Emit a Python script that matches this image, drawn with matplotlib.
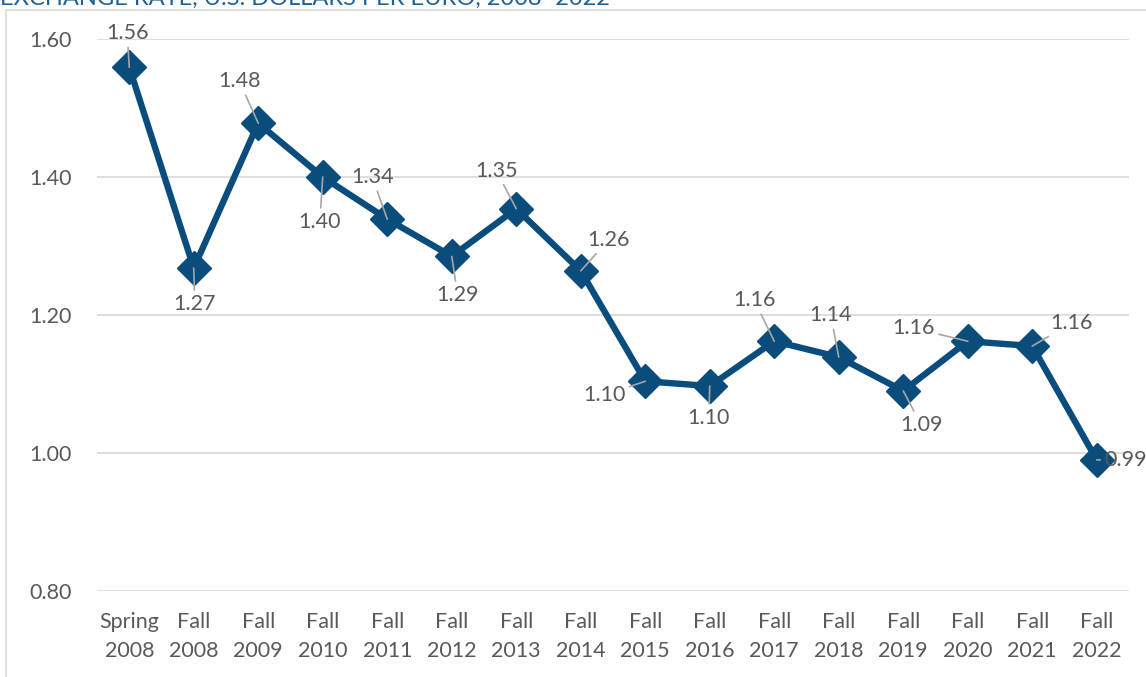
import matplotlib.pyplot as plt
from matplotlib.patches import Rectangle

# data
periods = ["Spring\n2008", "Fall\n2008", "Fall\n2009", "Fall\n2010", "Fall\n2011", "Fall\n2012",
           "Fall\n2013", "Fall\n2014", "Fall\n2015", "Fall\n2016", "Fall\n2017", "Fall\n2018",
           "Fall\n2019", "Fall\n2020", "Fall\n2021", "Fall\n2022"]
rates = [1.559, 1.268, 1.478, 1.400, 1.339, 1.285, 1.354, 1.264,
         1.104, 1.097, 1.162, 1.139, 1.090, 1.162, 1.155, 0.990]
labels = ["1.56", "1.27", "1.48", "1.40", "1.34", "1.29", "1.35", "1.26",
          "1.10", "1.10", "1.16", "1.14", "1.09", "1.16", "1.16", "0.99"]
# label offsets from the point, in pixels
offsets = [(-2, 34), (1, -36), (-19, 42), (-3, -45), (-15, 42), (6, -39), (-20, 38), (28, 31),
           (-41, -14), (-1, -32), (-20, 41), (-8, 42), (18, -34), (-54, 13), (39, 23), (29, 0)]
yticks = [0.80, 1.00, 1.20, 1.40, 1.60]

line_col = "#0A4D7D"
text_col = "#595959"
fs = 15.5
plt.rcParams['font.family'] = ['Lato', 'DejaVu Sans']

fig = plt.figure(figsize=(11.46, 6.77), dpi=100)
ax = fig.add_axes([97 / 1146, 1 - 591 / 677, (1129 - 97) / 1146, (591 - 39) / 677])

# chart frame and cut-off title
fig.add_artist(Rectangle((6 / 1146, -0.1), 1.2, 1 - 10 / 677 + 0.1, transform=fig.transFigure,
                         fill=False, edgecolor="#D9D9D9", lw=1.2))
fig.text(0.0, 1 - 5 / 677, "EXCHANGE RATE, U.S. DOLLARS PER EURO, 2008\u20132022",
         color="#1F6193", fontsize=17, va="baseline", ha="left")

x = list(range(len(rates)))
ax.plot(x, rates, color=line_col, lw=4.6, marker="D", markersize=17, zorder=4, clip_on=False)

for xi, yi, lab, off in zip(x, rates, labels, offsets):
    ax.annotate(lab, (xi, yi), xytext=off, textcoords="offset pixels", ha="center", va="center",
                fontsize=fs, color=text_col, zorder=5,
                arrowprops=dict(arrowstyle="-", color="#A6A6A6", lw=1.2, shrinkA=1, shrinkB=0))

ax.set_xlim(-0.5, 15.5)
ax.set_ylim(0.8, 1.6)
ax.set_yticks(yticks)
ax.set_yticklabels([f"{v:.2f}" for v in yticks])
ax.set_xticks(x)
ax.set_xticklabels(periods, linespacing=1.6)
ax.grid(axis="y", color="#D9D9D9", lw=1.2)
ax.set_axisbelow(True)
for s in ax.spines.values():
    s.set_visible(False)
ax.tick_params(length=0, labelsize=fs, labelcolor=text_col)
ax.tick_params(axis="y", pad=18)
ax.tick_params(axis="x", pad=15)

fig.savefig("out.png", dpi=100)
